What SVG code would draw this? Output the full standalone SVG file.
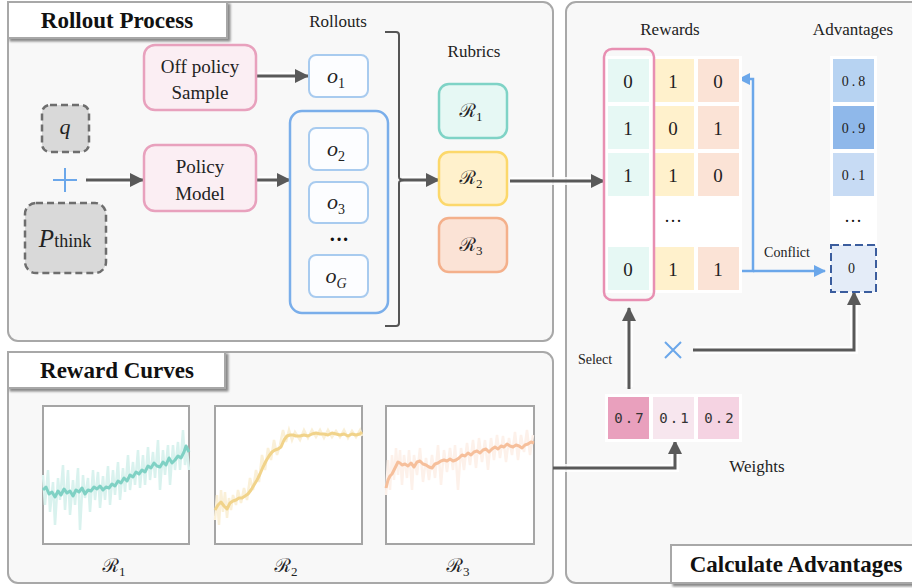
<svg xmlns="http://www.w3.org/2000/svg" width="912" height="588" viewBox="0 0 912 588">
<defs>
<style>
text{font-family:"Times New Roman","Liberation Serif",Tinos,"DejaVu Serif","Noto Serif",serif}
.panel{fill:#f8f8f8;stroke:#a8a8a8;stroke-width:2}
.title{fill:#fff;stroke:#a8a8a8;stroke-width:2;filter:url(#sh)}
.ttxt{font-weight:bold;font-size:23px;fill:#111;text-anchor:middle}
.lbl{font-size:17px;fill:#222;text-anchor:middle}
.sm{font-size:14px;fill:#222;text-anchor:middle}
.box{font-size:19px;fill:#222;text-anchor:middle}
.math{font-style:italic;font-size:22px;fill:#222;text-anchor:middle}
.cal{font-size:19px;fill:#222;text-anchor:middle}
.num{font-size:19px;fill:#222;text-anchor:middle}
.adv{font-size:14px;fill:#222;text-anchor:middle;letter-spacing:3px}
.wt{font-family:"DejaVu Sans Mono","Liberation Mono",monospace;font-size:14px;fill:#333;text-anchor:middle;letter-spacing:2px}
.ob{fill:#fcfdff;stroke:#a8cbef;stroke-width:2}
.pink{fill:#fbeef3;stroke:#e8a1bd;stroke-width:2.5}
.dash{fill:#d9d9d9;stroke:#6e6e6e;stroke-width:2.5;stroke-dasharray:7 4}
.con{fill:none;stroke:#595959;stroke-width:3}
.halo{fill:none;stroke:#fff;stroke-width:8;stroke-opacity:.85}
.blue{fill:none;stroke:#6ba7ea;stroke-width:2.5}
.chart{fill:#fff;stroke:#a5a5a5;stroke-width:2}
</style>
<filter id="sh" x="-10%" y="-20%" width="130%" height="150%"><feDropShadow dx="2.5" dy="2.5" stdDeviation="1.2" flood-color="#8a8a8a"/></filter>
<marker id="ah" markerUnits="userSpaceOnUse" markerWidth="14" markerHeight="14" refX="13" refY="7" orient="auto"><path d="M0,0 L14,7 L0,14 z" fill="#595959"/></marker>
<marker id="bh" markerUnits="userSpaceOnUse" markerWidth="12" markerHeight="12" refX="11" refY="6" orient="auto"><path d="M0,0 L12,6 L0,12 z" fill="#6ba7ea"/></marker>
</defs>

<!-- panels -->
<g id="panel-rollout">
<rect class="panel" x="8" y="2" width="545" height="339" rx="10"/>
<rect class="title" x="8" y="2" width="219" height="36"/>
<text class="ttxt" x="117" y="28">Rollout Process</text>
</g>
<g id="panel-curves">
<rect class="panel" x="8" y="352" width="545" height="231" rx="10"/>
<rect class="title" x="8" y="352" width="217" height="36"/>
<text class="ttxt" x="117" y="378">Reward Curves</text>
</g>
<g id="panel-adv">
<rect class="panel" x="566" y="2" width="360" height="581" rx="10"/>
</g>

<!-- connectors -->
<g id="connectors">
<path class="halo" d="M258,76 H300 M88,180 H135 M258,180 H282 M402,180 H430 M510,181 H596 M629,387 V318 M695,350 H854 V302 M555,468 H675 V450"/>
<path class="con" d="M256,76 H308" marker-end="url(#ah)"/>
<path class="con" d="M86,180 H143" marker-end="url(#ah)"/>
<path class="con" d="M256,180 H290" marker-end="url(#ah)"/>
<path class="con" d="M400,180 H439" marker-end="url(#ah)"/>
<path class="con" d="M510,181 H604" marker-end="url(#ah)"/>
<path class="con" d="M629,389 V308" marker-end="url(#ah)"/>
<path class="con" d="M693,350 H854 V292" marker-end="url(#ah)"/>
<path class="con" d="M553,468 H675 V441" marker-end="url(#ah)"/>
<path class="blue" d="M740,271 H753 V79 H739" marker-end="url(#bh)"/>
<path class="blue" d="M753,271 H825" marker-end="url(#bh)"/>
<path d="M385,32 H396 Q399,32 399,35 V177 Q399,180 404,180 Q399,180 399,183 V323 Q399,326 396,326 H385" fill="none" stroke="#555" stroke-width="2"/>
</g>

<!-- rollout nodes -->
<g id="offpolicy">
<rect class="pink" x="144" y="45" width="112" height="65" rx="11"/>
<text class="box" x="200" y="73" font-size="20">Off policy</text>
<text class="box" x="200" y="99" font-size="20">Sample</text>
</g>
<g id="q">
<rect class="dash" x="42" y="105" width="47" height="47" rx="8"/>
<text class="math" x="65" y="134">q</text>
</g>
<g id="plus"><path d="M65,168 V192 M53,180 H77" stroke="#6ba7ea" stroke-width="2"/></g>
<g id="pthink">
<rect class="dash" x="25" y="203" width="81" height="70" rx="11"/>
<text x="65" y="247" text-anchor="middle" fill="#222"><tspan font-style="italic" font-size="25">P</tspan><tspan font-size="18">think</tspan></text>
</g>
<g id="policy">
<rect class="pink" x="144" y="145" width="112" height="66" rx="11"/>
<text class="box" x="200" y="173" font-size="23">Policy</text>
<text class="box" x="200" y="200" font-size="23">Model</text>
</g>
<g id="rollouts-label"><text class="lbl" x="338" y="27">Rollouts</text></g>
<g id="o1">
<rect class="ob" x="309" y="55" width="59" height="42" rx="7"/>
<text class="math" x="336" y="83">o<tspan font-style="normal" font-size="14" dy="5">1</tspan></text>
</g>
<g id="group">
<rect x="290" y="111" width="98" height="202" rx="12" fill="none" stroke="#7aaeea" stroke-width="2.5"/>
</g>
<g id="o2">
<rect class="ob" x="309" y="128" width="59" height="42" rx="7"/>
<text class="math" x="336" y="156">o<tspan font-style="normal" font-size="14" dy="5">2</tspan></text>
</g>
<g id="o3">
<rect class="ob" x="309" y="182" width="59" height="41" rx="7"/>
<text class="math" x="336" y="209">o<tspan font-style="normal" font-size="14" dy="5">3</tspan></text>
</g>
<g id="odots"><text x="339" y="246" text-anchor="middle" font-weight="bold" font-size="20" fill="#111">···</text></g>
<g id="oG">
<rect class="ob" x="309" y="255" width="59" height="42" rx="7"/>
<text class="math" x="336" y="283">o<tspan font-size="14" dy="5">G</tspan></text>
</g>
<g id="rubrics-label"><text class="lbl" x="474" y="57">Rubrics</text></g>
<g id="R1">
<rect x="439" y="84" width="68" height="54" rx="10" fill="#e6f8f4" stroke="#7fd3c6" stroke-width="2.5"/>
<text class="cal" x="471" y="117">ℛ<tspan font-size="13" dy="4">1</tspan></text>
</g>
<g id="R2">
<rect x="439" y="152" width="68" height="53" rx="10" fill="#fff1cc" stroke="#fcd86b" stroke-width="2.5"/>
<text class="cal" x="471" y="184">ℛ<tspan font-size="13" dy="4">2</tspan></text>
</g>
<g id="R3">
<rect x="439" y="218" width="68" height="54" rx="10" fill="#fbe3d6" stroke="#f4b08b" stroke-width="2.5"/>
<text class="cal" x="471" y="251">ℛ<tspan font-size="13" dy="4">3</tspan></text>
</g>

<!-- rewards table -->
<g id="rewards">
<text class="lbl" x="670" y="35">Rewards</text>
<rect x="605" y="56" width="137" height="237" fill="#fff"/>
<g fill="#e6f8f4"><rect x="608" y="59" width="41" height="43"/><rect x="608" y="106" width="41" height="43"/><rect x="608" y="153" width="41" height="43"/><rect x="608" y="247" width="41" height="43"/></g>
<g fill="#fff1cc"><rect x="653" y="59" width="41" height="43"/><rect x="653" y="106" width="41" height="43"/><rect x="653" y="153" width="41" height="43"/><rect x="653" y="247" width="41" height="43"/></g>
<g fill="#fbe3d6"><rect x="698" y="59" width="41" height="43"/><rect x="698" y="106" width="41" height="43"/><rect x="698" y="153" width="41" height="43"/><rect x="698" y="247" width="41" height="43"/></g>
<g class="num">
<text x="628" y="88">0</text><text x="673" y="88">1</text><text x="718" y="88">0</text>
<text x="628" y="135">1</text><text x="673" y="135">0</text><text x="718" y="135">1</text>
<text x="628" y="182">1</text><text x="673" y="182">1</text><text x="718" y="182">0</text>
<text x="628" y="276">0</text><text x="673" y="276">1</text><text x="718" y="276">1</text>
</g>
<text x="673" y="227" text-anchor="middle" font-size="18" fill="#111">···</text>
<rect x="604" y="49" width="50" height="251" rx="8" fill="none" stroke="#e88fb2" stroke-width="2.5"/>
</g>
<g id="conflict-label"><text class="sm" x="787" y="257">Conflict</text></g>

<!-- advantages -->
<g id="advantages">
<text class="lbl" x="853" y="35">Advantages</text>
<rect x="830" y="56" width="47" height="237" fill="#fff"/>
<rect x="833" y="59" width="41" height="43" fill="#b7d3f2"/>
<rect x="833" y="106" width="41" height="43" fill="#8fb8ea"/>
<rect x="833" y="153" width="41" height="43" fill="#c7dbf4"/>
<rect x="831" y="245" width="45" height="47" fill="#e4ecf8" stroke="#3b5d9e" stroke-width="2" stroke-dasharray="8 4"/>
<text class="adv" x="855" y="86">0.8</text>
<text class="adv" x="855" y="133">0.9</text>
<text class="adv" x="855" y="180">0.1</text>
<text x="853" y="227" text-anchor="middle" font-size="18" fill="#111">···</text>
<text class="adv" x="853" y="273" letter-spacing="0">0</text>
</g>

<g id="select-label"><text class="sm" x="595" y="364">Select</text></g>
<g id="times"><path d="M665,342 L681,358 M681,342 L665,358" stroke="#6ba7ea" stroke-width="2"/></g>

<!-- weights -->
<g id="weights">
<rect x="605" y="394" width="137" height="48" fill="#fff"/>
<rect x="608" y="397" width="41" height="42" fill="#e9a0bd"/>
<rect x="653" y="397" width="41" height="42" fill="#f7e6ee"/>
<rect x="698" y="397" width="41" height="42" fill="#f5d3e2"/>
<text class="wt" x="630" y="423">0.7</text>
<text class="wt" x="675" y="423">0.1</text>
<text class="wt" x="720" y="423">0.2</text>
<text class="lbl" x="757" y="472">Weights</text>
</g>

<g id="title-adv">
<rect class="title" x="671" y="545" width="250" height="38"/>
<text class="ttxt" x="796" y="572">Calculate Advantages</text>
</g>

<!-- reward curves -->
<g id="chart1">
<rect class="chart" x="43" y="406" width="146" height="138"/>
<polyline fill="none" stroke="#d9f2ee" stroke-width="2.5" points="43,475 45,505 48,470 50,512 53,482 55,525 58,478 60,500 63,465 65,510 68,470 70,515 73,480 75,505 78,468 80,530 83,475 85,498 88,478 90,512 93,470 95,500 98,472 100,508 103,476 105,500 108,466 110,505 113,470 115,495 118,462 120,500 123,468 125,492 128,455 130,490 133,462 135,485 138,450 140,488 143,455 145,485 148,447 150,480 153,452 155,478 158,440 160,490 163,450 165,475 168,445 170,485 173,445 175,470 178,442 180,470 183,430 185,465 187,450 189,470"/>
<polyline fill="none" stroke="#7fd1c4" stroke-width="3" stroke-linejoin="round" points="43,490 46,487 49,494 52,492 55,497 58,491 61,495 64,489 67,493 70,491 73,496 76,490 79,492 82,488 85,494 88,490 91,491 94,487 97,489 100,486 103,490 106,487 109,488 112,484 115,486 118,481 121,483 124,478 127,481 130,475 133,477 136,472 139,474 142,470 145,472 148,466 151,468 154,463 157,466 160,467 163,462 166,465 169,458 172,463 175,460 178,456 181,458 184,452 186,446 189,452"/>
<text class="cal" x="114" y="572">ℛ<tspan font-size="13" dy="4">1</tspan></text>
</g>
<g id="chart2">
<rect class="chart" x="215" y="406" width="147" height="138"/>
<polyline fill="none" stroke="#faf0d8" stroke-width="2.5" points="215,520 217,495 219,525 221,490 223,512 225,492 227,518 229,498 231,510 233,495 236,505 238,490 241,503 244,488 247,500 250,478 253,490 256,470 259,482 262,455 265,470 268,448 271,460 274,440 277,455 280,445 283,430 286,442 289,430 292,440 295,432 300,440 304,430 308,438 312,430 316,437 320,430 324,438 328,430 332,437 336,431 340,437 344,430 348,438 352,431 356,437 360,430 362,436"/>
<polyline fill="none" stroke="#f1d38a" stroke-width="3" stroke-linejoin="round" points="215,510 218,505 221,502 224,506 227,509 230,503 233,501 236,500 239,498 242,498 245,496 248,494 251,490 254,485 257,480 260,474 263,467 266,461 269,456 272,452 275,450 278,449 281,447 284,440 287,436 290,435 293,435 296,436 300,436 304,435 308,436 312,434 316,433 320,434 324,434 328,435 332,433 336,434 340,435 344,434 348,436 352,434 356,435 360,434 362,432"/>
<text class="cal" x="286" y="572">ℛ<tspan font-size="13" dy="4">2</tspan></text>
</g>
<g id="chart3">
<rect class="chart" x="386" y="406" width="148" height="138"/>
<polyline fill="none" stroke="#fdf1ea" stroke-width="2.5" points="386,495 388,460 390,490 392,455 394,480 396,448 398,475 400,450 402,485 404,455 407,478 409,450 412,490 414,455 417,475 420,448 423,482 426,458 429,480 432,455 435,478 438,445 441,485 444,450 447,472 450,448 453,470 455,445 458,490 461,448 464,470 467,443 470,465 473,440 476,468 479,438 482,462 485,440 488,470 491,438 494,460 497,435 500,458 503,436 506,462 509,438 512,455 515,432 518,460 521,435 524,452 527,430 530,455 533,435"/>
<polyline fill="none" stroke="#f6bf9b" stroke-width="3" stroke-linejoin="round" points="386,488 388,480 390,476 392,474 394,470 396,466 398,462 400,463 402,465 405,464 408,466 411,463 414,467 417,462 420,461 423,464 426,465 429,467 432,468 435,464 438,463 441,461 444,460 447,461 450,459 453,461 456,460 459,458 462,455 465,456 468,453 471,455 474,452 477,451 480,453 483,450 486,449 489,452 492,449 495,447 498,449 501,446 504,447 507,444 510,446 513,447 516,445 519,446 522,448 525,445 528,444 531,442 534,443"/>
<text class="cal" x="458" y="572">ℛ<tspan font-size="13" dy="4">3</tspan></text>
</g>
</svg>
